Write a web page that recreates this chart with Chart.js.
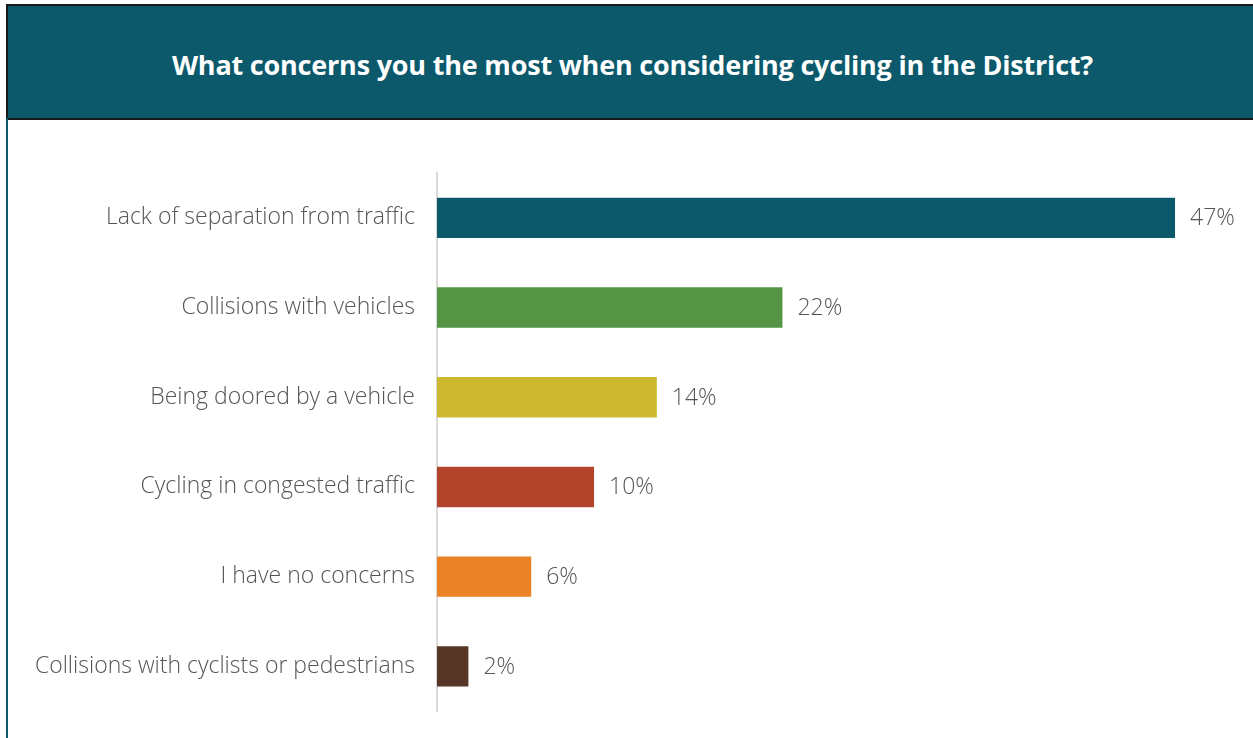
<!DOCTYPE html>
<html>
<head>
<meta charset="utf-8">
<script src="https://cdn.jsdelivr.net/npm/chart.js@4/dist/chart.umd.min.js"></script>
<style>
  html, body { margin: 0; padding: 0; background: #fff; }
  body { width: 1253px; height: 738px; position: relative; overflow: hidden; }
  .frame {
    position: absolute; left: 6px; top: 118px; width: 2px; bottom: 0;
    background: #0b596b;
  }
  .header {
    position: absolute; left: 6px; top: 4px; right: 0; height: 116px;
    background: #0b596b; border: 2px solid #1a1a1a; border-right: none;
    color: #fff; font-family: "Open Sans", Lato, sans-serif; font-weight: 700;
    font-size: 27px; display: flex; align-items: center; justify-content: center;
    padding-left: 4px; padding-top: 4px; box-sizing: border-box;
    letter-spacing: -0.2px;
  }
  .chart-box { position: absolute; left: 0; top: 118px; width: 1253px; height: 629px; }
</style>
</head>
<body>
<div class="header">What concerns you the most when considering cycling in the District?</div>
<div class="frame"></div>
<div class="chart-box"><canvas id="concernsChart"></canvas></div>
<script>
// Datos de la encuesta
const categories = [
    'Lack of separation from traffic',
    'Collisions with vehicles',
    'Being doored by a vehicle',
    'Cycling in congested traffic',
    'I have no concerns',
    'Collisions with cyclists or pedestrians'
];
const percentages = [47, 22, 14, 10, 6, 2];
const barColors = ['#0b596b', '#559444', '#cdb92f', '#b1442a', '#e98325', '#563727'];

const labelFont = '"Open Sans", Lato, sans-serif';

// Etiquetas de valor al final de cada barra
const valueLabels = {
    id: 'valueLabels',
    afterDatasetsDraw(chart) {
        const ctx = chart.ctx;
        const meta = chart.getDatasetMeta(0);
        ctx.save();
        ctx.font = '300 23px ' + labelFont;
        ctx.fillStyle = '#555555';
        ctx.textAlign = 'left';
        ctx.textBaseline = 'middle';
        meta.data.forEach(function (bar, i) {
            ctx.fillText(percentages[i] + '%', bar.x + 15, bar.y + 1);
        });
        ctx.restore();
    }
};

document.addEventListener('DOMContentLoaded', function () {
    const concernsChart = new Chart(document.getElementById('concernsChart'), {
        type: 'bar',
        data: {
            labels: categories,
            datasets: [{
                data: percentages,
                backgroundColor: barColors,
                barPercentage: 0.45,
                categoryPercentage: 1
            }]
        },
        options: {
            indexAxis: 'y',
            responsive: true,
            maintainAspectRatio: false,
            animation: false,
            layout: { padding: { top: 55, bottom: 16, right: 78, left: 0 } },
            plugins: {
                legend: { display: false },
                tooltip: { enabled: false }
            },
            scales: {
                x: {
                    min: 0,
                    max: 47,
                    display: false
                },
                y: {
                    afterFit: function (scale) { scale.width = 437; },
                    grid: { display: false, drawTicks: false },
                    border: { display: true, color: '#d9d9d9', width: 2 },
                    ticks: {
                        color: '#555555',
                        padding: 22,
                        font: { family: labelFont, size: 23, weight: 300 }
                    }
                }
            }
        },
        plugins: [valueLabels]
    });
});
</script>
</body>
</html>
